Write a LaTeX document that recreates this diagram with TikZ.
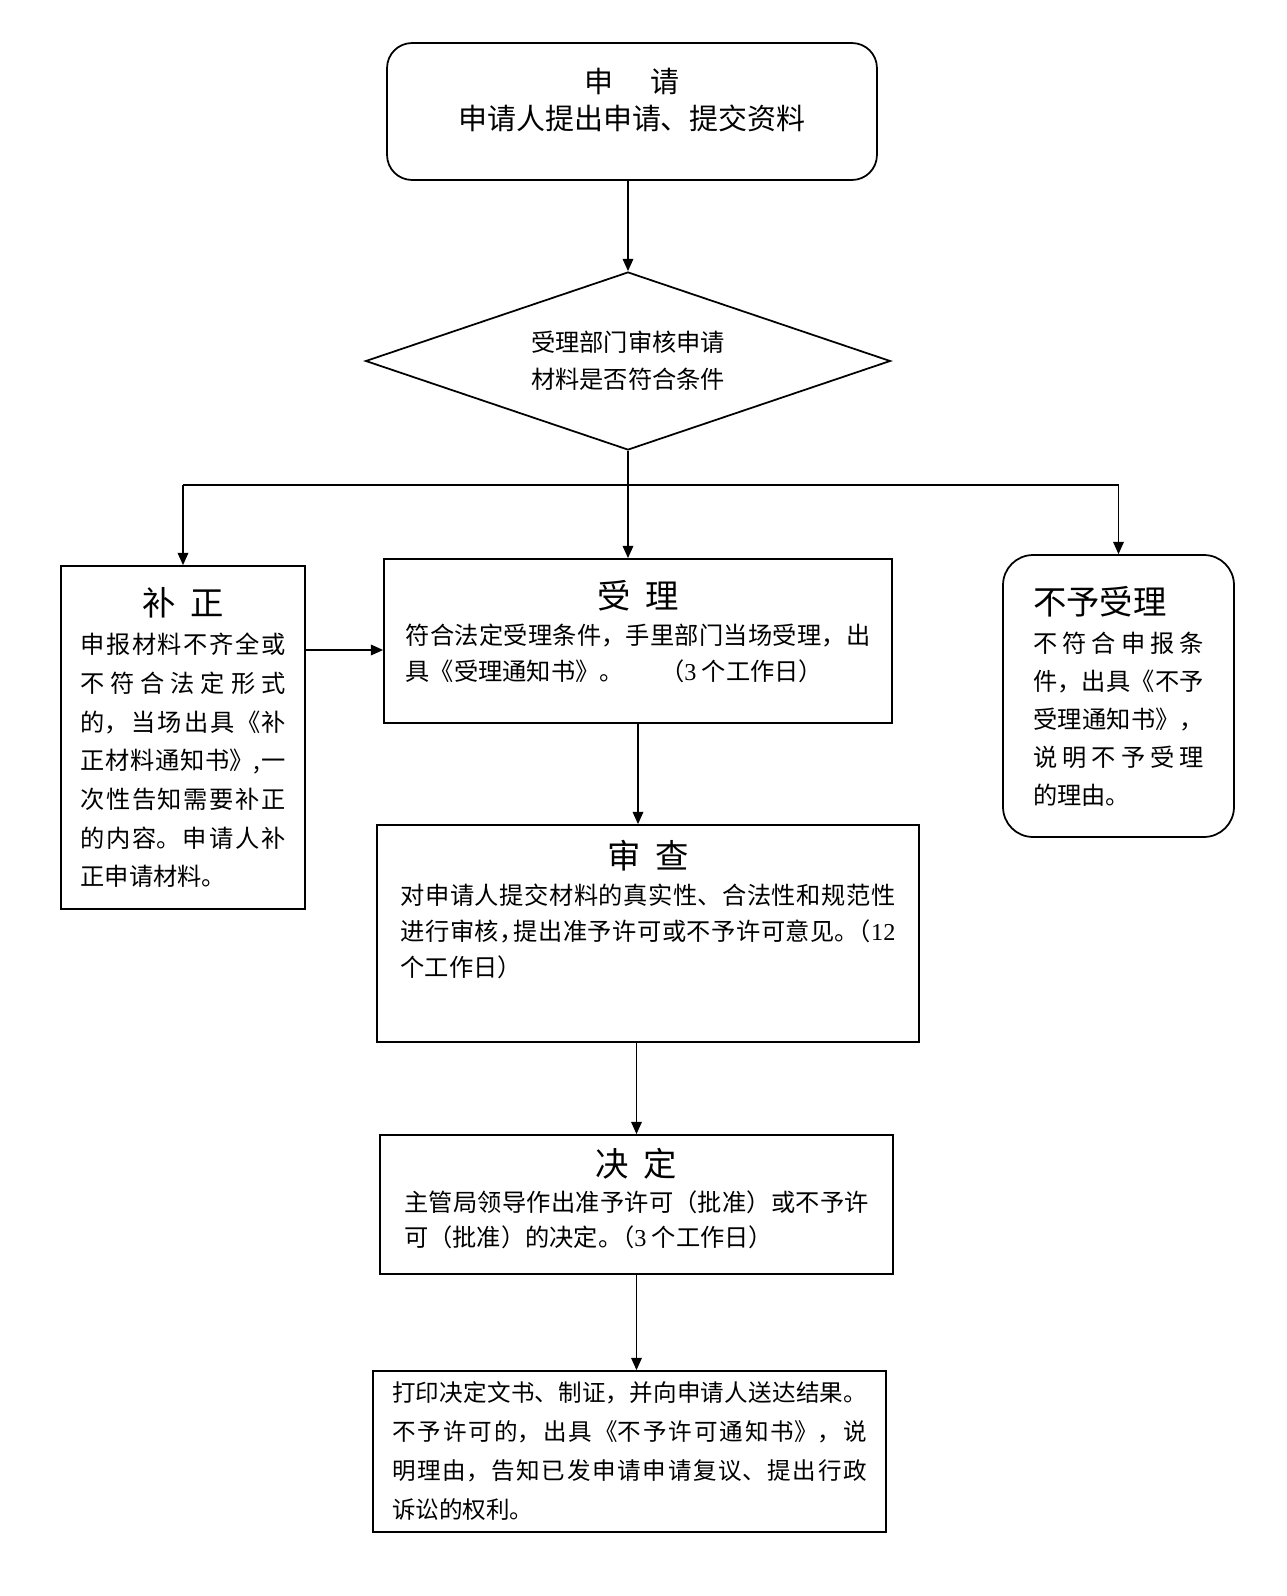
\documentclass[tikz,border=0pt]{standalone}
\usepackage{fontspec}
\setmainfont{Noto Sans CJK SC}
\newfontfamily\latinfont{Liberation Serif}
\usetikzlibrary{arrows.meta, shapes.geometric}
\XeTeXlinebreaklocale "zh"
\XeTeXlinebreakskip = 0pt plus 0.5em

\newcommand{\boxtitle}[1]{{\centering\fontsize{19pt}{24pt}\selectfont #1\par}}
\newcommand{\digits}[1]{{\latinfont #1}}

\begin{document}
\begin{tikzpicture}[
  x=0.02cm, y=-0.02cm,
  stage/.style={rectangle, draw, line width=1pt, inner xsep=0pt, align=justify, font=\fontsize{13.8pt}{21pt}\selectfont},
  decision/.style={diamond, aspect=2.95, draw, line width=1pt, inner sep=0pt, align=center, font=\fontsize{13.8pt}{21pt}\selectfont},
  arrow/.style={-{Triangle[length=7pt, width=6pt]}, line width=1pt},
  link/.style={line width=1pt},
]
\useasboundingbox (0,0) rectangle (1286,1596);

% Nodes
\node[stage, rounded corners=0.5cm, align=flush center, minimum width=9.8cm, text width=9cm, inner ysep=0pt, text height=0.98cm, text depth=1.76cm, font=\fontsize{16.5pt}{21.6pt}\selectfont] (apply) at (632,111.5) {申\hspace{1.3em}请\\申请人提出申请、提交资料};
\node[decision, minimum width=10.5cm, minimum height=3.56cm] (check) at (628,361) {受理部门审核申请\\材料是否符合条件};
\node[stage, minimum width=4.88cm, minimum height=6.86cm, text width=4.1cm, font=\fontsize{13.8pt}{22pt}\selectfont] (buzheng) at (183,737.5) {\boxtitle{补\hspace{0.45em}正}申报材料不齐全或\linebreak 不符合法定形式\linebreak 的，当场出具《补\linebreak 正材料通知书》,一\linebreak 次性告知需要补正\linebreak 的内容。申请人补\linebreak 正申请材料。};
\node[stage, minimum width=10.16cm, text width=9.3cm, inner ysep=0pt, text height=0.98cm, text depth=2.3cm, font=\fontsize{13.8pt}{20.5pt}\selectfont] (shouli) at (638,641) {\boxtitle{受\hspace{0.45em}理}符合法定受理条件，手里部门当场受理，出\linebreak 具《受理通知书》。\hspace{1.5em}（\digits{3} 个工作日）};
\node[stage, rounded corners=0.6cm, minimum width=4.62cm, minimum height=5.64cm, text width=3.42cm, font=\fontsize{13.8pt}{21.6pt}\selectfont] (buyu) at (1118.5,696) {{\fontsize{19pt}{24pt}\selectfont 不予受理\par}不符合申报条\linebreak 件，出具《不予\linebreak 受理通知书》，\linebreak 说明不予受理\linebreak 的理由。};
\node[stage, minimum width=10.84cm, text width=9.9cm, inner ysep=0pt, text height=0.86cm, text depth=3.48cm, font=\fontsize{13.8pt}{20.5pt}\selectfont] (shencha) at (648,933.5) {\boxtitle{审\hspace{0.45em}查}对申请人提交材料的真实性、合法性和规范性\linebreak 进行审核，\kern-0.4em提出准予许可或不予许可意见。\kern-0.5em（\digits{12}\linebreak 个工作日）};
\node[stage, minimum width=10.26cm, text width=9.3cm, inner ysep=0pt, text height=0.82cm, text depth=1.96cm, font=\fontsize{13.8pt}{20pt}\selectfont] (jueding) at (636.5,1204.5) {\boxtitle{决\hspace{0.45em}定}主管局领导作出准予许可（批准）或不予许\linebreak 可（批准）的决定。\kern-0.5em（\digits{3} 个工作日）};
\node[stage, minimum width=10.26cm, minimum height=3.22cm, text width=9.5cm, font=\fontsize{13.4pt}{22.2pt}\selectfont] (songda) at (629.5,1451.5) {打印决定文书、制证，并向申请人送达结果。\linebreak 不予许可的，出具《不予许可通知书》，说\linebreak 明理由，告知已发申请申请复议、提出行政\linebreak 诉讼的权利。};
\coordinate (fork) at (628,485);
\coordinate (entry) at (384,650);

% Arrows
\draw[arrow] (apply.south -| check.north) -- (check.north);
\draw[arrow] (check.south) -- (check.south |- shouli.north);
\draw[link] (fork -| buzheng.north) -- (fork -| buyu.north);
\draw[arrow] (fork -| buzheng.north) -- (buzheng.north);
\draw[arrow] (fork -| buyu.north) -- (buyu.north);
\draw[arrow] (buzheng.east |- entry) -- (shouli.west |- entry);
\draw[arrow] (shouli.south) -- (shouli.south |- shencha.north);
\draw[arrow] (jueding.north |- shencha.south) -- (jueding.north);
\draw[arrow] (jueding.south) -- (jueding.south |- songda.north);
\end{tikzpicture}
\end{document}
